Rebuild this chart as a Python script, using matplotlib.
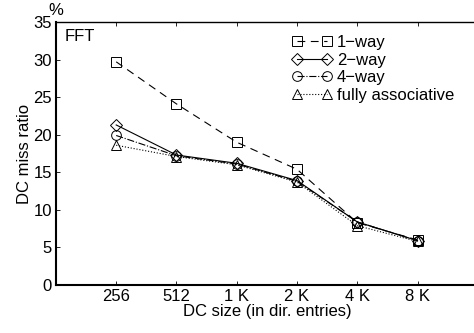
import matplotlib
matplotlib.use('Agg')
import matplotlib.pyplot as plt

plt.rcParams['font.family'] = ['Liberation Sans', 'DejaVu Sans']

# DC miss ratio (%) for the FFT benchmark
sizes = ['256', '512', '1 K', '2 K', '4 K', '8 K']
one_way = [29.7, 24.1, 19.0, 15.4, 8.3, 6.0]
two_way = [21.3, 17.3, 16.2, 13.9, 8.4, 5.9]
four_way = [19.9, 17.2, 16.1, 13.8, 8.4, 5.9]
fully_assoc = [18.6, 17.1, 16.0, 13.7, 7.9, 5.8]

x = list(range(1, len(sizes) + 1))

fig = plt.figure(figsize=(4.74, 3.33), dpi=100)
ax = fig.add_axes([0.118, 0.144, 0.89, 0.79])

fs = 12
ms = 7
ax.plot(x, one_way, color='black', linestyle=(0, (7, 5)), linewidth=0.8,
        marker='s', markersize=ms, markerfacecolor='none', markeredgewidth=0.7, label='1\u2212way')
ax.plot(x, two_way, color='black', linestyle='-', linewidth=0.8,
        marker='D', markersize=ms - 0.5, markerfacecolor='none', markeredgewidth=0.7, label='2\u2212way')
ax.plot(x, four_way, color='black', linestyle='-.', linewidth=0.8,
        marker='o', markersize=ms, markerfacecolor='none', markeredgewidth=0.7, label='4\u2212way')
ax.plot(x, fully_assoc, color='black', linestyle=':', linewidth=0.8,
        marker='^', markersize=ms, markerfacecolor='none', markeredgewidth=0.7, label='fully associative')

ax.set_xlim(0, 7)
ax.set_ylim(0, 35)
ax.set_xticks(x)
ax.set_xticklabels(sizes)
ax.set_yticks(range(0, 36, 5))
ax.tick_params(direction='in', top=True, right=True, length=3, labelsize=fs, width=0.6, pad=3)
ax.spines['left'].set_linewidth(1.5)
ax.spines['bottom'].set_linewidth(1.5)
ax.spines['top'].set_linewidth(1.0)
ax.spines['right'].set_linewidth(1.0)

ax.set_xlabel('DC size (in dir. entries)', fontsize=fs, labelpad=0)
ax.set_ylabel('DC miss ratio', fontsize=fs, labelpad=1)
ax.text(0.0, 1.015, '%', transform=ax.transAxes, fontsize=fs, ha='center', va='bottom')
ax.text(0.02, 0.975, 'FFT', transform=ax.transAxes, fontsize=fs, ha='left', va='top')

ax.legend(loc='upper right', bbox_to_anchor=(0.975, 1.0), frameon=False, fontsize=fs,
          handlelength=2.4, handletextpad=0.3, labelspacing=0.15, borderpad=0.3, numpoints=2)

plt.savefig('out.png', dpi=100)
